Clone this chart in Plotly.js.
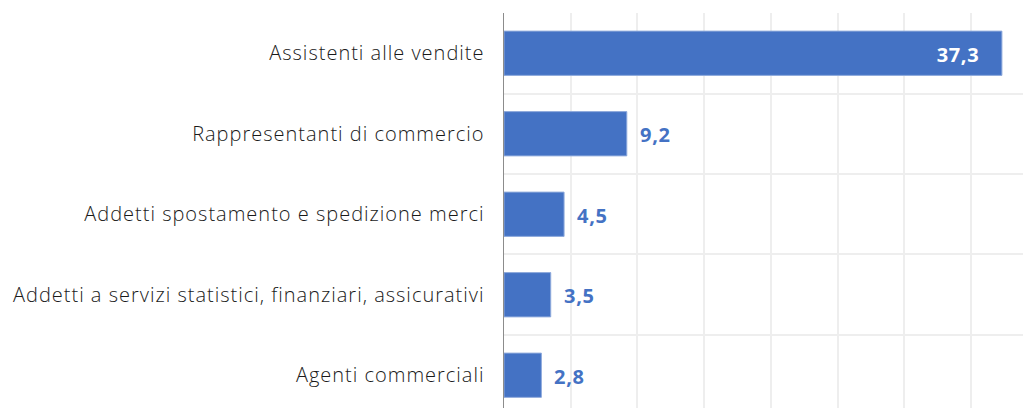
<!DOCTYPE html>
<html>
<head>
<meta charset="utf-8">
<script src="https://cdn.plot.ly/plotly-3.0.1.min.js"></script>
<style>
html,body{margin:0;padding:0;background:#fff;}
#chart{width:1023px;height:408px;}
#chart .ytick text{letter-spacing:1px;}
#chart .annotation-text{letter-spacing:0.6px;}
</style>
</head>
<body>
<div id="chart"></div>
<script>
const categories = [
  "Assistenti alle vendite",
  "Rappresentanti di commercio",
  "Addetti spostamento e spedizione merci",
  "Addetti a servizi statistici, finanziari, assicurativi",
  "Agenti commerciali"
];
const values = [37.3, 9.2, 4.5, 3.5, 2.8];
const insideLabel = [true, false, false, false, false];

const fmt = v => v.toFixed(1).replace('.', ',');

const trace = {
  type: 'bar',
  orientation: 'h',
  y: categories,
  x: values,
  width: 0.55,
  marker: {color: '#4472C4', line: {color: '#8FAADC', width: 1}},
  hoverinfo: 'none'
};

const annotations = values.map((v, i) => ({
  x: v, y: categories[i], xref: 'x', yref: 'y',
  text: '<b>' + fmt(v) + '</b>',
  showarrow: false,
  xanchor: insideLabel[i] ? 'right' : 'left',
  xshift: insideLabel[i] ? -22 : 12,
  yshift: -1,
  font: {family: 'Open Sans, sans-serif', size: 20, color: insideLabel[i] ? '#ffffff' : '#4472C4'}
}));

const layout = {
  width: 1023, height: 408,
  margin: {l: 503.5, r: 0, t: 13, b: 0, pad: 0},
  paper_bgcolor: '#ffffff', plot_bgcolor: '#ffffff',
  showlegend: false,
  separators: ',.',
  xaxis: {
    range: [0, 38.88], dtick: 5, tick0: 0,
    showticklabels: false, ticks: '',
    showgrid: true, gridcolor: '#EEEEEE', gridwidth: 2,
    zeroline: false, showline: false, fixedrange: true
  },
  yaxis: {
    type: 'category',
    range: [4.407, -0.5],
    tickson: 'boundaries',
    ticks: '', ticklabelstandoff: 14,
    showgrid: true, gridcolor: '#EEEEEE', gridwidth: 2,
    showline: true, linecolor: '#8C8C8C', linewidth: 1.5,
    zeroline: false,
    tickfont: {family: 'Open Sans, sans-serif', size: 20, weight: 300, color: '#1a1a1a'},
    fixedrange: true
  },
  annotations: annotations
};

Plotly.newPlot('chart', [trace], layout, {displayModeBar: false, staticPlot: true});
</script>
</body>
</html>
